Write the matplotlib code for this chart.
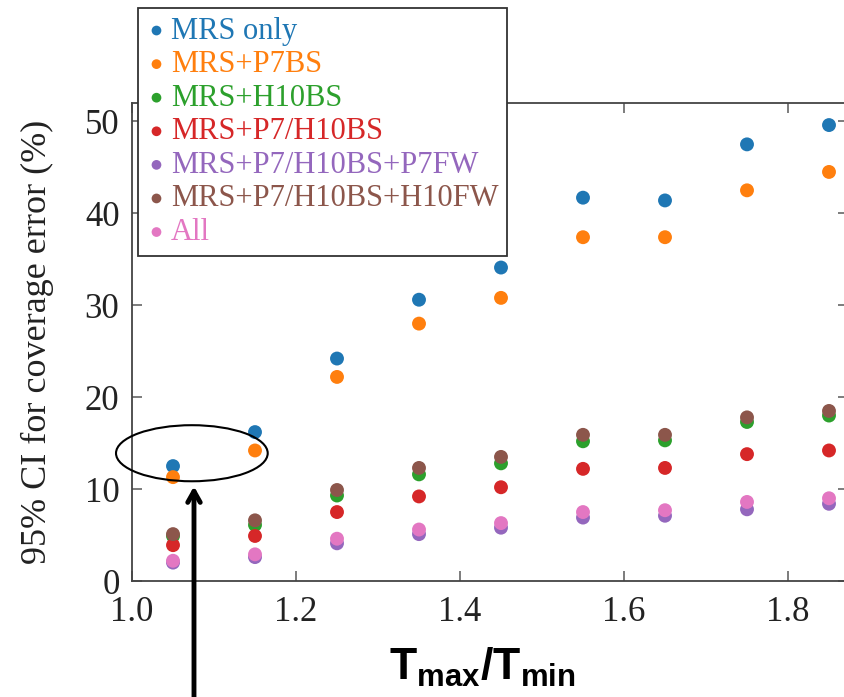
import matplotlib
matplotlib.use("Agg")
import matplotlib.pyplot as plt
from matplotlib import font_manager
from matplotlib.patches import Ellipse

names = set(f.name for f in font_manager.fontManager.ttflist)
# narrow sans for the axis label if we have it
if 'Liberation Sans Narrow' in names:
    lab_font, lab_size = 'Liberation Sans Narrow', 37
else:
    lab_font, lab_size = 'Liberation Sans', 32

plt.rcParams['font.family'] = ['Liberation Serif', 'DejaVu Serif']
plt.rcParams['mathtext.fontset'] = 'custom'
plt.rcParams['mathtext.rm'] = lab_font
plt.rcParams['mathtext.bf'] = lab_font + ':bold'

# T_max / T_min ratios
ratio = [1.05, 1.15, 1.25, 1.35, 1.45, 1.55, 1.65, 1.75, 1.85]

labels = ["MRS only", "MRS+P7BS", "MRS+H10BS", "MRS+P7/H10BS",
          "MRS+P7/H10BS+P7FW", "MRS+P7/H10BS+H10FW", "All"]

mrs_only = [12.5, 16.2, 24.2, 30.6, 34.1, 41.7, 41.4, 47.5, 49.6]
mrs_p7bs = [11.3, 14.2, 22.2, 28.0, 30.8, 37.4, 37.4, 42.5, 44.5]
mrs_h10bs = [4.9, 6.1, 9.3, 11.6, 12.8, 15.2, 15.3, 17.3, 18.0]
mrs_p7h10bs = [3.9, 4.9, 7.5, 9.2, 10.2, 12.2, 12.3, 13.8, 14.2]
mrs_p7h10bs_p7fw = [2.0, 2.6, 4.1, 5.1, 5.8, 6.9, 7.1, 7.8, 8.4]
mrs_p7h10bs_h10fw = [5.1, 6.6, 9.9, 12.3, 13.5, 15.9, 15.9, 17.8, 18.5]
all_sets = [2.2, 2.9, 4.6, 5.6, 6.3, 7.5, 7.7, 8.6, 9.0]

series = [mrs_only, mrs_p7bs, mrs_h10bs, mrs_p7h10bs,
          mrs_p7h10bs_p7fw, mrs_p7h10bs_h10fw, all_sets]
colors = ["C0", "C1", "C2", "C3", "C4", "C5", "C6"]

fig = plt.figure(figsize=(8.44, 6.97), dpi=100)
ax = fig.add_axes([132/844, 116/697, 716/844, 478/697])

for vals, lab, c in zip(series, labels, colors):
    ax.scatter(ratio, vals, s=100, color=c, label=lab, edgecolors='none', zorder=3)

ax.set_xlim(1.0, 1.0 + 716/820)
ax.set_ylim(0, 52)
ax.set_xticks([1.0, 1.2, 1.4, 1.6, 1.8])
ax.set_yticks([0, 10, 20, 30, 40, 50])
ax.tick_params(direction='in', length=7, width=1.2, color='#666666',
               top=True, right=True, labelsize=25, pad=9, labelcolor='#222222')
ax.tick_params(axis='x', pad=11)
for sp in ax.spines.values():
    sp.set_color('#444444')
    sp.set_linewidth(1.3)

ax.set_ylabel("95% CI for coverage error (%)", fontsize=26, labelpad=22,
              color='#222222')
ax.set_xlabel(r"$\mathbf{T_{max}/T_{min}}$", fontsize=lab_size)
ax.xaxis.set_label_coords(0.489, -0.135)

# highlight of the first two points
ell = Ellipse((1.073, 13.9), 0.185, 6.1, fill=False, edgecolor='black',
              linewidth=1.5, clip_on=False, zorder=4)
ax.add_patch(ell)
ax.annotate('', xy=(1.0756, 10.6), xytext=(1.0756, -14),
            arrowprops=dict(arrowstyle='->,head_length=0.8,head_width=0.45',
                            lw=3.5, color='black'),
            annotation_clip=False)

leg = fig.legend(loc='upper left', bbox_to_anchor=(138/844, 1 - 8/697),
                 fontsize=22, markerscale=0.7, handlelength=0.65,
                 handletextpad=0.15, labelspacing=0.15, borderpad=0.28,
                 borderaxespad=0, fancybox=False, framealpha=1,
                 edgecolor='#333333')
leg.get_frame().set_linewidth(1.3)
for t, c in zip(leg.get_texts(), colors):
    t.set_color(c)

fig.savefig("out.png", dpi=100)
